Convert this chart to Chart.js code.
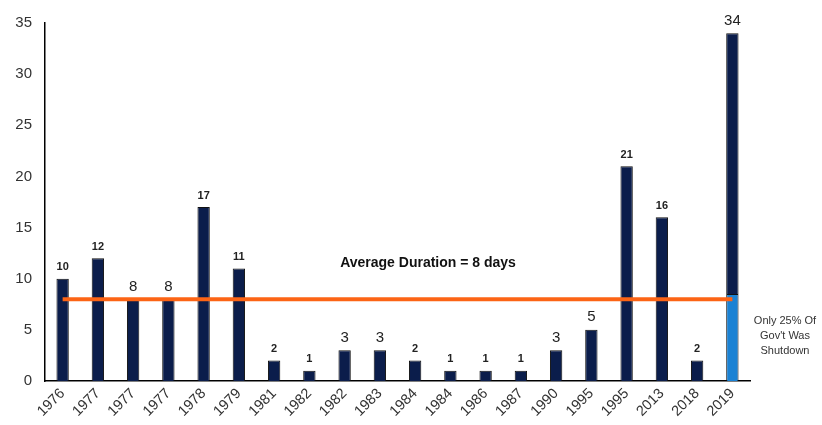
<!DOCTYPE html>
<html>
<head>
<meta charset="utf-8">
<script src="https://cdn.jsdelivr.net/npm/chart.js@4"></script>
<style>
    html, body { margin: 0; padding: 0; background: #fff; }
    #wrap { width: 822px; height: 425px; position: relative; }
</style>
</head>
<body>
<div id="wrap"><canvas id="ShutdownChart"></canvas></div>
<script>
// shutdown years and length in days
const years = ['1976','1977','1977','1977','1978','1979','1981','1982','1982','1983',
               '1984','1984','1986','1987','1990','1995','1995','2013','2018','2019'];
const durations = [10, 12, 8, 8, 17, 11, 2, 1, 3, 3, 2, 1, 1, 1, 3, 5, 21, 16, 2, 34];
// part of the 2019 bar shown in light blue (25% of gov't shut)
const partial = [null, null, null, null, null, null, null, null, null, null,
                 null, null, null, null, null, null, null, null, null, 8.5];
const average = 8;
const yTicks = [0, 5, 10, 15, 20, 25, 30, 35];

const darkPart = durations.map((d, i) => partial[i] ? d - partial[i] : d);
const avgLine = years.map(() => average);

// labels drawn bigger / not bold in the original
const bigLabels = [2, 3, 8, 9, 14, 15, 19];

const labelPlugin = {
    id: 'barLabels',
    afterDatasetsDraw(chart) {
        const ctx = chart.ctx;
        const meta = chart.getDatasetMeta(2);
        ctx.save();
        ctx.fillStyle = '#222';
        ctx.textAlign = 'center';
        ctx.textBaseline = 'bottom';
        meta.data.forEach((bar, i) => {
            if (bigLabels.includes(i)) {
                ctx.font = '15px "Liberation Sans", Arial, sans-serif';
                ctx.fillText(durations[i], bar.x, bar.y - 5);
            } else {
                ctx.font = 'bold 11px "Liberation Sans", Arial, sans-serif';
                ctx.fillText(durations[i], bar.x, bar.y - 6);
            }
        });

        // titles / notes
        const area = chart.chartArea;
        const ys = chart.scales.y;
        ctx.font = 'bold 14px "Liberation Sans", Arial, sans-serif';
        ctx.textBaseline = 'middle';
        ctx.fillStyle = '#111';
        ctx.fillText('Average Duration = 8 days', 428, ys.getPixelForValue(11.5));

        ctx.font = '11px "Liberation Sans", Arial, sans-serif';
        ctx.fillStyle = '#333';
        const nx = area.right + 35;
        ctx.fillText('Only 25% Of', nx, 321);
        ctx.fillText("Gov't Was", nx, 336);
        ctx.fillText('Shutdown', nx, 351);
        ctx.restore();
    }
};

const config = {
    type: 'bar',
    data: {
        labels: years,
        datasets: [
            {
                type: 'line',
                label: 'Average',
                data: avgLine,
                borderColor: '#fc6415',
                borderWidth: 4,
                pointRadius: 0,
                order: 0,
            },
            {
                label: 'Partial',
                data: partial,
                backgroundColor: '#1b82d4',
                borderColor: '#111',
                borderWidth: 1,
                stack: 'a',
                barPercentage: 0.35,
                categoryPercentage: 1,
                order: 1,
            },
            {
                label: 'Duration',
                data: darkPart,
                backgroundColor: '#0b1d4b',
                borderColor: '#111',
                borderWidth: 1,
                stack: 'a',
                barPercentage: 0.35,
                categoryPercentage: 1,
                order: 1,
            }
        ]
    },
    options: {
        responsive: true,
        maintainAspectRatio: false,
        animation: false,
        layout: { padding: { top: 23, right: 72, left: 0, bottom: 0 } },
        plugins: {
            legend: { display: false },
            tooltip: { enabled: false },
        },
        scales: {
            x: {
                grid: { display: false, drawTicks: false },
                border: { color: '#000', width: 1.5 },
                ticks: {
                    color: '#333',
                    font: { family: '"Liberation Sans", Arial, sans-serif', size: 14.5 },
                    minRotation: 45,
                    maxRotation: 45,
                    autoSkip: false,
                    padding: 4,
                },
                afterFit(scale) { scale.height = 44; }
            },
            y: {
                min: 0,
                max: 35,
                grid: { display: false, drawTicks: false },
                border: { color: '#000', width: 1.5 },
                afterBuildTicks(scale) { scale.ticks = yTicks.map(v => ({ value: v })); },
                ticks: {
                    color: '#333',
                    font: { family: '"Liberation Sans", Arial, sans-serif', size: 15 },
                    padding: 13,
                },
                afterFit(scale) { scale.width = 45; }
            }
        }
    },
    plugins: [labelPlugin]
};

let ShutdownChart = new Chart(document.getElementById('ShutdownChart'), config);
</script>
</body>
</html>
